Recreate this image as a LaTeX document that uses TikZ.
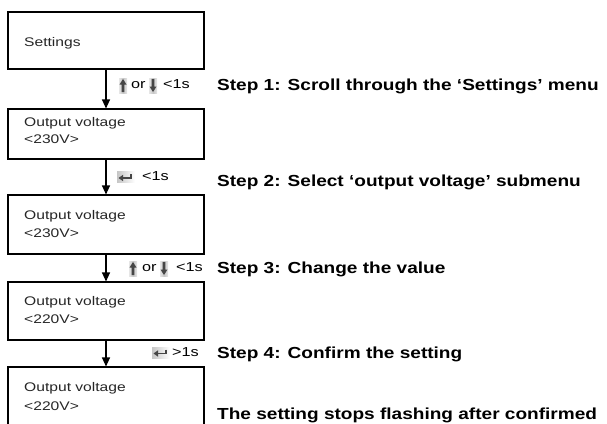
\documentclass[tikz,border=0pt]{standalone}
\usepackage{fontspec}
\setmainfont{Liberation Sans}
\newfontfamily\boxfont{Liberation Sans}[FakeStretch=1.25]
\newfontfamily\stepfont{Liberation Sans}[FakeStretch=1.19]
\usetikzlibrary{arrows.meta}
\colorlet{keyarrow}{gray!55!black}
\begin{document}
\begin{tikzpicture}[x=1pt,y=-1pt,
  screen/.style={draw, line width=1.1pt, minimum width=196pt, inner sep=0pt},
  screentext/.style={font=\boxfont\fontsize{12.5}{14}\selectfont, text=black!85, inner sep=0pt, anchor=base west},
  flow/.style={line width=1.1pt, -{Triangle[width=8pt,length=9pt]}},
  keylabel/.style={font=\boxfont\fontsize{13}{15}\selectfont, inner sep=0pt, anchor=base west},
  steplabel/.style={font=\stepfont\bfseries\fontsize{16}{18}\selectfont, inner sep=0pt, anchor=base west},
  upkey/.pic={
    \shade[left color=gray!20, right color=gray!20, middle color=gray!45] (-4,-7.5) rectangle (4,7.5);
    \fill[keyarrow] (0,-6.5) -- (3.5,-1) -- (1.3,-1) -- (1.3,6.5) -- (-1.3,6.5) -- (-1.3,-1) -- (-3.5,-1) -- cycle;
  },
  downkey/.pic={
    \shade[left color=gray!20, right color=gray!20, middle color=gray!45] (-4,-7.5) rectangle (4,7.5);
    \fill[keyarrow] (0,6.5) -- (3.5,1) -- (1.3,1) -- (1.3,-6.5) -- (-1.3,-6.5) -- (-1.3,1) -- (-3.5,1) -- cycle;
  },
  retkey/.pic={
    \shade[left color=gray!45, right color=white] (-9,-5.5) rectangle (9,5.5);
    \draw[keyarrow, line width=1.6pt] (5,-3) -- (5,1) -- (-4,1);
    \fill[keyarrow] (-7.5,1) -- (-3,-2.2) -- (-3,4.2) -- cycle;
  }]
\useasboundingbox (0,0) rectangle (607,423);

% screens
\node[screen, minimum height=57pt] (b1) at (106,40.5) {};
\node[screen, minimum height=50pt] (b2) at (106,134) {};
\node[screen, minimum height=59pt] (b3) at (106,224.5) {};
\node[screen, minimum height=58pt] (b4) at (106,311) {};
\begin{scope}
  \clip (0,0) rectangle (607,423);
  \node[screen, minimum height=62pt] (b5) at (106,398) {};
\end{scope}

% screen texts
\node[screentext] (t1) at (24,46) {Settings};
\node[screentext] (t2a) at (24,126) {Output voltage};
\node[screentext] (t2b) at (24,143) {<230V>};
\node[screentext] (t3a) at (24,219.5) {Output voltage};
\node[screentext] (t3b) at (24,237) {<230V>};
\node[screentext] (t4a) at (24,305) {Output voltage};
\node[screentext] (t4b) at (24,323) {<220V>};
\node[screentext] (t5a) at (24,391) {Output voltage};
\node[screentext] (t5b) at (24,410) {<220V>};

% connectors
\draw[flow] (b1.south) -- (b2.north);
\draw[flow] (b2.south) -- (b3.north);
\draw[flow] (b3.south) -- (b4.north);
\draw[flow] (b4.south) -- (b5.north);

% key labels
\pic at (123,85.5) {upkey};
\node[keylabel] (or1) at (131,88.5) {or};
\pic at (153,85.5) {downkey};
\node[keylabel] (k1) at (163,88.5) {<1s};

\pic at (126,177) {retkey};
\node[keylabel] (k2) at (142,180.7) {<1s};

\pic at (133,268.5) {upkey};
\node[keylabel] (or3) at (142,271.7) {or};
\pic at (164,268.5) {downkey};
\node[keylabel] (k3) at (176,271.7) {<1s};

\pic at (161,352.5) {retkey};
\node[keylabel] (k4) at (172,356) {>1s};

% step texts
\node[steplabel] (s1) at (217,90.5) {Step 1: Scroll through the ‘Settings’ menu};
\node[steplabel] (s2) at (217,186) {Step 2: Select ‘output voltage’ submenu};
\node[steplabel] (s3) at (217,273) {Step 3: Change the value};
\node[steplabel] (s4) at (217,358) {Step 4: Confirm the setting};
\node[steplabel] (s5) at (217,419) {The setting stops flashing after confirmed};
\end{tikzpicture}
\end{document}
